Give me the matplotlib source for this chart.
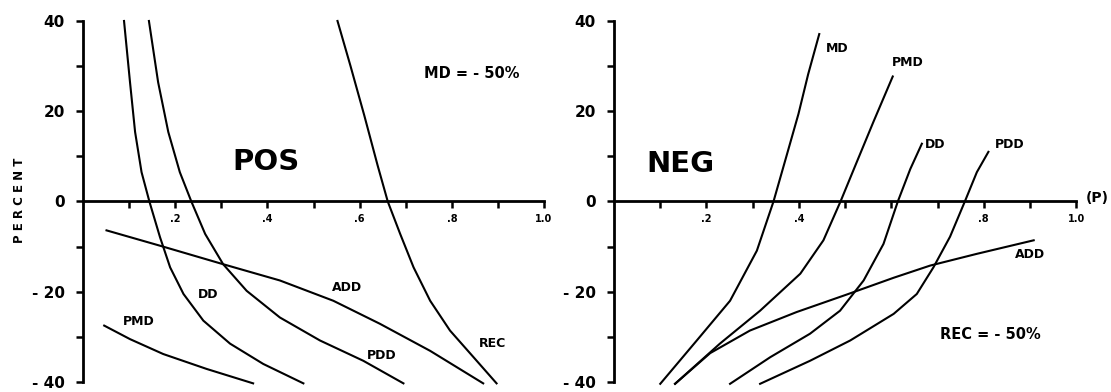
"""
Percent change curves vs (p), positive and negative panels
"""

import matplotlib
matplotlib.use('Agg')
import matplotlib.pyplot as plt

plt.rcParams.update({
    'font.family': 'DejaVu Sans',
    'font.weight': 'bold',
    'lines.linewidth': 1.5,
    'axes.linewidth': 2.0,
})

# ---- left panel (POS) ----
pos_dd_x = [0.089, 0.102, 0.113, 0.127, 0.144, 0.167, 0.189, 0.218, 0.261, 0.319, 0.391, 0.478]
pos_dd_y = [40.0, 26.4, 15.4, 6.5, 0.0, -7.9, -14.6, -20.5, -26.4, -31.5, -36.0, -40.3]

pos_pdd_x = [0.143, 0.163, 0.185, 0.210, 0.235, 0.265, 0.304, 0.355, 0.427, 0.514, 0.608, 0.695]
pos_pdd_y = [40.0, 26.4, 15.4, 6.5, 0.0, -7.2, -13.9, -19.8, -25.7, -30.8, -35.3, -40.3]

pos_rec_x = [0.552, 0.580, 0.610, 0.639, 0.661, 0.688, 0.717, 0.753, 0.796, 0.847, 0.897]
pos_rec_y = [40.0, 30.1, 19.1, 8.0, 0.0, -7.2, -14.6, -22.0, -28.6, -34.5, -40.3]

pos_add_x = [0.051, 0.167, 0.304, 0.427, 0.543, 0.644, 0.753, 0.868]
pos_add_y = [-6.4, -9.8, -13.9, -17.5, -22.0, -27.1, -33.1, -40.3]

pos_pmd_x = [0.046, 0.102, 0.174, 0.268, 0.369]
pos_pmd_y = [-27.5, -30.5, -33.8, -37.1, -40.3]

# ---- right panel (NEG) ----
neg_md_x = [0.100, 0.179, 0.251, 0.309, 0.345, 0.374, 0.399, 0.420, 0.444]
neg_md_y = [-40.4, -30.8, -22.0, -10.9, 0.0, 10.4, 19.4, 28.2, 37.1]

neg_pmd_x = [0.132, 0.229, 0.316, 0.403, 0.453, 0.490, 0.525, 0.561, 0.603]
neg_pmd_y = [-40.4, -31.5, -24.2, -16.0, -8.6, 0.0, 8.7, 17.6, 27.7]

neg_dd_x = [0.251, 0.338, 0.424, 0.489, 0.540, 0.583, 0.614, 0.641, 0.666]
neg_dd_y = [-40.4, -34.5, -29.3, -24.2, -17.5, -9.4, 0.0, 7.2, 12.8]

neg_pdd_x = [0.316, 0.424, 0.511, 0.605, 0.655, 0.691, 0.727, 0.759, 0.785, 0.810]
neg_pdd_y = [-40.4, -35.3, -30.8, -24.9, -20.5, -14.6, -7.8, 0.0, 6.5, 11.0]

neg_add_x = [0.132, 0.208, 0.294, 0.395, 0.504, 0.605, 0.684, 0.785, 0.908]
neg_add_y = [-40.4, -33.6, -28.6, -24.5, -20.6, -16.9, -14.2, -11.6, -8.6]

y_major = [-40, -20, 0, 20, 40]
y_labels = ['- 40', '- 20', '0', '20', '40']
y_minor = [-30, -10, 10, 30]
x_major = [0.2, 0.4, 0.6, 0.8, 1.0]
x_minor = [0.1, 0.3, 0.5, 0.7, 0.9]
pos_xlabels = ['.2', '.4', '.6', '.8', '1.0']
neg_xlabels = ['.2', '.4', '', '.8', '1.0']


def setup_axes(ax, xlabels):
    """spines through the origin, ticks like the original figure"""
    ax.set_xlim(0, 1.0)
    ax.set_ylim(-40, 40)
    ax.spines['top'].set_visible(False)
    ax.spines['right'].set_visible(False)
    ax.spines['bottom'].set_position(('data', 0))

    ax.set_yticks(y_major)
    ax.set_yticklabels(y_labels)
    ax.set_yticks(y_minor, minor=True)
    ax.set_xticks(x_major)
    ax.set_xticklabels(xlabels)
    ax.set_xticks(x_minor, minor=True)

    ax.tick_params(axis='y', which='both', direction='out', length=5, width=1.8,
                   labelsize=11, pad=8)
    ax.tick_params(axis='x', which='both', direction='out', length=5, width=1.8,
                   labelsize=7, pad=4)


fig = plt.figure(figsize=(11.11, 3.92), dpi=100)
ax1 = fig.add_axes([0.0747, 0.0255, 0.415, 0.921])
ax2 = fig.add_axes([0.5527, 0.0255, 0.416, 0.921])

for x, y in [(pos_dd_x, pos_dd_y), (pos_pdd_x, pos_pdd_y), (pos_rec_x, pos_rec_y),
             (pos_add_x, pos_add_y), (pos_pmd_x, pos_pmd_y)]:
    ax1.plot(x, y, color='black', clip_on=False)

for x, y in [(neg_md_x, neg_md_y), (neg_pmd_x, neg_pmd_y), (neg_dd_x, neg_dd_y),
             (neg_pdd_x, neg_pdd_y), (neg_add_x, neg_add_y)]:
    ax2.plot(x, y, color='black', clip_on=False)

setup_axes(ax1, pos_xlabels)
setup_axes(ax2, neg_xlabels)

# curve labels
lbl = dict(fontsize=9, fontweight='bold', ha='center', va='center')
ax1.text(0.272, -20.6, 'DD', **lbl)
ax1.text(0.572, -19.1, 'ADD', **lbl)
ax1.text(0.120, -26.7, 'PMD', **lbl)
ax1.text(0.648, -34.1, 'PDD', **lbl)
ax1.text(0.889, -31.4, 'REC', **lbl)
ax1.text(0.843, 28.3, 'MD = - 50%', fontsize=10.5, fontweight='bold', ha='center', va='center')
ax1.text(0.398, 8.7, 'POS', fontsize=21, fontweight='heavy', ha='center', va='center')

ax2.text(0.482, 34.0, 'MD', **lbl)
ax2.text(0.636, 30.7, 'PMD', **lbl)
ax2.text(0.695, 12.6, 'DD', **lbl)
ax2.text(0.857, 12.6, 'PDD', **lbl)
ax2.text(0.900, -11.7, 'ADD', **lbl)
ax2.text(0.814, -29.5, 'REC = - 50%', fontsize=10.5, fontweight='bold', ha='center', va='center')
ax2.text(0.143, 8.3, 'NEG', fontsize=21, fontweight='heavy', ha='center', va='center')
ax2.text(1.045, 0.8, '(P)', fontsize=10, fontweight='bold', ha='center', va='center')

fig.text(0.018, 0.49, 'P E R C E N T', rotation='vertical', fontsize=8.5,
         fontweight='bold', ha='center', va='center')

fig.savefig('out.png', dpi=100)
